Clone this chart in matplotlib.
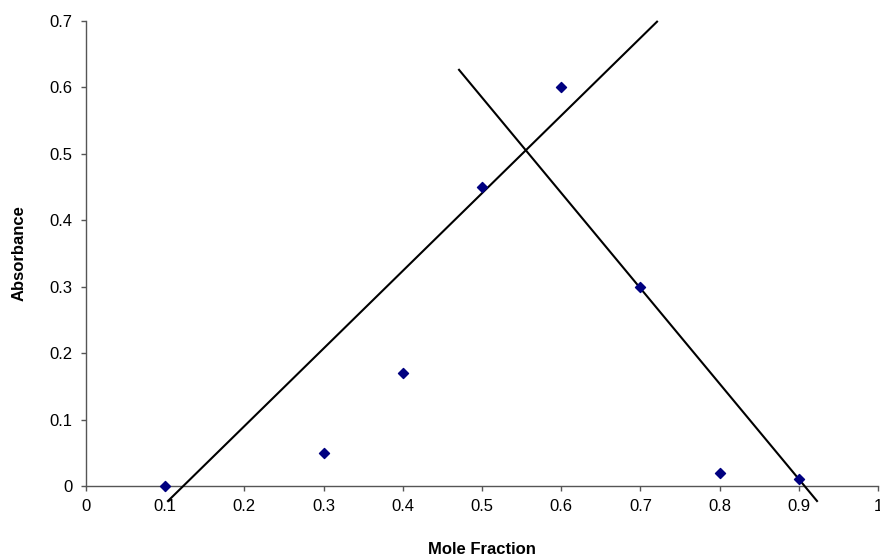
import matplotlib
matplotlib.use("Agg")
import matplotlib.pyplot as plt

plt.rcParams['font.family'] = ['Liberation Sans', 'DejaVu Sans']

mole_fraction = [0.1, 0.3, 0.4, 0.5, 0.6, 0.7, 0.8, 0.9]
absorbance = [0.0, 0.05, 0.17, 0.45, 0.6, 0.3, 0.02, 0.01]

# trend lines drawn by hand on the original (endpoints)
rise_x = [0.1035, 0.721]
rise_y = [-0.0226, 0.699]
fall_x = [0.471, 0.923]
fall_y = [0.6265, -0.0226]

x_ticks = [0, 0.1, 0.2, 0.3, 0.4, 0.5, 0.6, 0.7, 0.8, 0.9, 1]
x_labels = ['0', '0.1', '0.2', '0.3', '0.4', '0.5', '0.6', '0.7', '0.8', '0.9', '1']
y_ticks = [0, 0.1, 0.2, 0.3, 0.4, 0.5, 0.6, 0.7]
y_labels = ['0', '0.1', '0.2', '0.3', '0.4', '0.5', '0.6', '0.7']

fig = plt.figure(figsize=(8.8, 5.57), dpi=100)
ax = fig.add_axes([86 / 880, 71 / 557, 792 / 880, 465 / 557])

ax.plot(rise_x, rise_y, color='black', linewidth=1.5, clip_on=False, zorder=3)
ax.plot(fall_x, fall_y, color='black', linewidth=1.5, clip_on=False, zorder=3)
ax.scatter(mole_fraction, absorbance, marker='D', s=26, color='#000080',
           clip_on=False, zorder=4)

ax.set_xlim(0, 1)
ax.set_ylim(0, 0.7)
ax.set_xticks(x_ticks)
ax.set_xticklabels(x_labels)
ax.set_yticks(y_ticks)
ax.set_yticklabels(y_labels)
ax.tick_params(direction='out', length=3.6, width=1, color='#555555',
               labelsize=12, pad=6)

for side in ['top', 'right']:
    ax.spines[side].set_visible(False)
for side in ['left', 'bottom']:
    ax.spines[side].set_color('#555555')
    ax.spines[side].set_linewidth(1)

ax.set_xlabel('Mole Fraction', fontsize=12, fontweight='bold', va='center')
ax.set_ylabel('Absorbance', fontsize=12, fontweight='bold', va='center')
ax.xaxis.set_label_coords(0.5, -0.1376)
ax.yaxis.set_label_coords(-0.0846, 0.5)

fig.savefig('out.png', dpi=100)
